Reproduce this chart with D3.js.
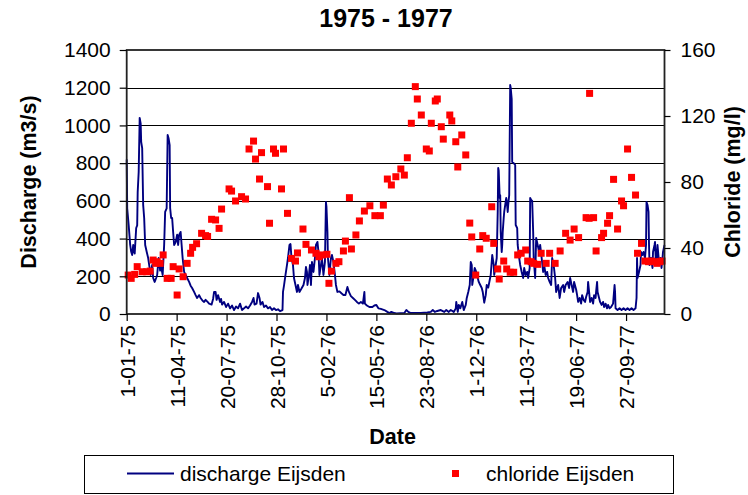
<html>
<head>
  <script type="text/javascript" src="https://cdn.jsdelivr.net/npm/d3@7/dist/d3.min.js"></script>
  <style>
  body { margin: 0; background: #fff; }
  text { font-family: "Liberation Sans", Arial, sans-serif; fill: #000; }
  </style>
</head>
<body>

<script type="text/javascript">
// day offsets counted from 1-01-75
var startDate = new Date(1975, 0, 1);
var lastDay = 1077;

// [day, discharge m3/s]
var dischargeEijsden = [
  [0,820],[1,560],[4,470],[7,366],[9,330],[11,313],[13,366],[16,320],[19,456],[21,470],
  [22,647],[24,753],[26,1040],[28,1010],[29,912],[31,880],[33,578],[35,509],[37,366],[40,330],
  [43,297],[45,260],[48,207],[51,260],[53,191],[56,170],[59,191],[61,207],[64,297],[67,230],
  [69,250],[72,207],[75,366],[77,541],[80,560],[82,949],[84,930],[86,896],[87,562],[89,509],
  [91,509],[93,435],[95,366],[98,380],[101,420],[103,366],[105,419],[108,435],[110,366],[112,297],
  [115,223],[118,207],[121,191],[125,170],[128,150],[131,138],[135,117],[138,100],[141,85],[145,100],
  [148,85],[152,70],[155,64],[158,75],[162,64],[165,55],[170,50],[173,80],[175,117],[178,117],
  [180,75],[183,100],[187,64],[189,80],[191,50],[195,64],[199,37],[203,55],[207,30],[211,45],
  [215,21],[219,40],[223,30],[227,55],[231,21],[235,30],[239,40],[243,30],[247,45],[251,64],
  [254,85],[256,50],[260,55],[263,111],[266,85],[268,50],[272,64],[275,37],[279,45],[283,30],
  [287,37],[291,21],[295,30],[299,21],[303,25],[307,15],[312,21],[313,117],[315,150],[318,207],
  [321,260],[323,297],[326,366],[328,371],[330,297],[333,260],[335,191],[338,154],[341,117],[343,154],
  [346,117],[350,135],[354,154],[357,191],[359,250],[361,223],[362,154],[365,207],[367,260],[369,154],
  [371,276],[374,223],[377,297],[379,366],[382,382],[384,330],[386,207],[389,260],[391,297],[394,207],
  [397,276],[399,594],[400,570],[402,435],[403,297],[406,207],[409,297],[411,313],[414,276],[417,207],
  [419,154],[422,117],[426,120],[430,110],[434,101],[438,101],[442,143],[445,117],[449,95],[453,85],
  [457,75],[461,64],[465,55],[469,64],[473,55],[476,117],[477,55],[481,45],[486,37],[492,37],
  [496,45],[500,48],[504,30],[509,27],[516,21],[522,11],[526,5],[530,11],[536,5],[540,3],
  [556,5],[560,21],[564,11],[569,5],[576,5],[589,5],[602,8],[609,11],[613,21],[617,11],
  [622,16],[629,21],[636,11],[640,21],[645,11],[649,21],[655,11],[659,30],[660,64],[663,11],
  [665,48],[668,30],[672,64],[675,21],[679,48],[681,85],[684,117],[687,154],[689,276],[691,260],
  [692,154],[695,207],[697,244],[700,223],[703,191],[705,170],[708,154],[711,138],[713,117],[716,60],
  [719,100],[721,154],[724,140],[727,180],[729,207],[732,313],[735,260],[736,207],[739,260],[741,297],
  [743,541],[744,774],[745,760],[747,615],[748,630],[749,435],[751,329],[752,366],[753,435],[755,509],
  [756,541],[758,578],[760,615],[761,600],[763,541],[764,578],[766,630],[768,1214],[769,1200],[771,1140],
  [772,806],[775,800],[778,790],[779,472],[782,455],[783,366],[786,297],[788,260],[791,223],[794,191],
  [796,244],[799,207],[802,223],[804,191],[807,244],[808,615],[810,605],[812,600],[814,435],[815,297],
  [816,260],[818,191],[820,403],[823,366],[826,329],[828,366],[831,297],[834,223],[836,260],[839,207],
  [842,223],[844,191],[847,170],[850,154],[852,297],[855,260],[858,191],[860,117],[864,154],[867,85],
  [870,138],[874,154],[876,117],[879,154],[883,170],[886,138],[888,191],[891,154],[894,117],[896,170],
  [900,130],[902,100],[904,64],[907,85],[910,55],[912,100],[915,75],[918,64],[920,90],[923,117],
  [924,170],[926,117],[928,64],[931,85],[934,55],[936,100],[939,85],[940,117],[942,170],[943,117],
  [946,85],[948,64],[951,48],[954,64],[956,37],[959,55],[962,30],[964,48],[967,30],[970,37],
  [974,55],[977,154],[978,117],[979,30],[983,21],[987,30],[991,21],[995,30],[999,21],[1003,30],
  [1007,21],[1011,30],[1015,21],[1019,30],[1021,85],[1022,297],[1023,191],[1026,223],[1029,260],[1030,329],
  [1033,313],[1035,329],[1038,297],[1040,366],[1041,594],[1043,578],[1045,541],[1046,366],[1047,260],[1050,297],
  [1053,244],[1054,329],[1057,366],[1058,382],[1060,260],[1061,276],[1063,366],[1066,276],[1069,297],[1071,244],
  [1073,297],[1074,329],[1077,366]
];

// [day, chloride mg/l]
var chlorideEijsden = [
  [3,23.6],[9,21.6],[16,24],[21,28.7],[31,25.6],[40,25.6],[47,26],[53,32.7],[58,30.7],[61,31.7],
  [67,30.7],[73,35.8],[81,21.6],[89,21.6],[93,28.7],[101,11.5],[105,27.3],[113,22.6],[121,30.7],[128,36.8],
  [132,40.4],[140,42.6],[150,48.9],[158,47.5],[162,47],[170,57.4],[178,57],[185,51.9],[190,63.6],[205,75.8],
  [210,74.5],[218,68.5],[230,71.1],[238,69.7],[245,100],[254,104.8],[258,93.9],[266,81.8],[270,97.8],[282,77.2],
  [286,55],[294,100],[298,97.4],[310,75.8],[314,100],[322,61],[330,33.7],[338,32.1],[342,37],[353,51.5],
  [359,42.2],[370,38.8],[379,36.8],[385,34.7],[392,35.8],[401,36.2],[405,18.6],[410,26],[419,30.7],[425,31.7],
  [434,38.2],[438,44.2],[446,70.5],[450,39.4],[459,47.9],[466,56.4],[476,62.4],[487,65.6],[497,59.6],[508,59.6],
  [514,66],[522,81.8],[530,78.2],[539,83.2],[549,87.9],[556,84.2],[562,94.7],[570,115.6],[578,137.8],[582,130.3],
  [590,120.6],[600,100],[606,98.8],[610,115.6],[618,129.1],[622,130.3],[630,113.5],[634,106],[647,120.6],[651,117],
  [659,104.4],[663,89.1],[671,108.5],[679,96.4],[687,55.1],[691,46.7],[699,23.6],[707,39.4],[713,47.5],[720,45.9],
  [731,65],[735,42.8],[743,27.3],[746,21.2],[755,32.1],[761,27.3],[768,25.3],[775,25.3],[783,35.8],[790,36.8],
  [799,38.8],[803,32.1],[810,31.7],[815,30.7],[823,30.1],[830,36.8],[840,30.7],[847,36.8],[858,30.7],[868,38.2],
  [879,48.9],[888,44.8],[896,51.5],[905,46.3],[920,58.4],[926,58],[927,133.7],[935,58.4],[940,38.2],[951,46.3],
  [955,48.9],[963,55],[967,59.6],[975,81.6],[983,51.5],[991,68.5],[995,65.6],[1003,100],[1011,82.8],[1019,72.1],
  [1023,36.8],[1031,42.8],[1038,32.1],[1045,31.7],[1051,32.1],[1057,31.7],[1062,30.7],[1068,31.7],[1072,32.1]
];

var dateTickDays = [0, 100, 200, 300, 400, 500, 600, 700, 800, 900, 1000];
var dischargeTicks = [0, 200, 400, 600, 800, 1000, 1200, 1400];
var chlorideTicks = [0, 40, 80, 120, 160];

function dayToDate(n) {
  return d3.timeDay.offset(startDate, n);
}

var W = 748, H = 495;
var plotL = 126.7, plotR = 664.5, plotT = 50, plotB = 314;

var svg = d3.select("body").append("svg")
  .attr("width", W)
  .attr("height", H);

var x = d3.scaleTime()
  .domain([startDate, dayToDate(lastDay)])
  .range([plotL, plotR]);
var yL = d3.scaleLinear().domain([0, 1400]).range([plotB, plotT]);
var yR = d3.scaleLinear().domain([0, 160]).range([plotB, plotT]);

// grid lines
svg.append("g")
  .selectAll("line")
  .data(dischargeTicks.filter(function(d) { return d > 0 && d < 1400; }))
  .enter().append("line")
  .attr("x1", plotL).attr("x2", plotR)
  .attr("y1", function(d) { return Math.round(yL(d)) + 0.5; })
  .attr("y2", function(d) { return Math.round(yL(d)) + 0.5; })
  .attr("stroke", "#000")
  .attr("stroke-width", 1);

// discharge line
var line = d3.line()
  .x(function(d) { return x(dayToDate(d[0])); })
  .y(function(d) { return yL(d[1]); });

svg.append("path")
  .datum(dischargeEijsden)
  .attr("d", line)
  .attr("fill", "none")
  .attr("stroke", "#000080")
  .attr("stroke-width", 1.9)
  .attr("stroke-linejoin", "round");

// chloride markers
var ms = 7;
svg.append("g")
  .selectAll("rect")
  .data(chlorideEijsden)
  .enter().append("rect")
  .attr("x", function(d) { return x(dayToDate(d[0])) - ms / 2; })
  .attr("y", function(d) { return yR(d[1]) - ms / 2; })
  .attr("width", ms)
  .attr("height", ms)
  .attr("fill", "#ff0000");

// frame
svg.append("rect")
  .attr("x", plotL).attr("y", plotT)
  .attr("width", plotR - plotL).attr("height", plotB - plotT)
  .attr("fill", "none")
  .attr("stroke", "#222")
  .attr("stroke-width", 1.8);

var fmt = d3.timeFormat("%-d-%m-%y");

// axes
var xAxis = svg.append("g")
  .attr("transform", "translate(0," + plotB + ")")
  .call(d3.axisBottom(x)
    .tickValues(dateTickDays.map(dayToDate))
    .tickFormat(fmt)
    .tickSize(7)
    .tickPadding(6));

xAxis.selectAll("text")
  .attr("transform", "rotate(-90)")
  .attr("text-anchor", "end")
  .attr("x", -11)
  .attr("y", 0)
  .attr("dy", "0.36em");

svg.append("g")
  .attr("transform", "translate(" + plotL + ",0)")
  .call(d3.axisLeft(yL)
    .tickValues(dischargeTicks)
    .tickFormat(d3.format("d"))
    .tickSize(7)
    .tickPadding(9));

svg.append("g")
  .attr("transform", "translate(" + plotR + ",0)")
  .call(d3.axisRight(yR)
    .tickValues(chlorideTicks)
    .tickFormat(d3.format("d"))
    .tickSize(6)
    .tickPadding(10));

svg.selectAll(".domain").remove();
svg.selectAll(".tick line").attr("stroke", "#000").attr("stroke-width", 1.2);
svg.selectAll(".tick text")
  .style("font-family", "'Liberation Sans', Arial, sans-serif")
  .style("font-size", "21px")
  .attr("fill", "#000");

// titles
svg.append("text")
  .attr("x", 386).attr("y", 27)
  .attr("text-anchor", "middle")
  .style("font-size", "25px")
  .style("font-weight", "bold")
  .text("1975 - 1977");

svg.append("text")
  .attr("transform", "translate(36," + (plotT + plotB) / 2 + ") rotate(-90)")
  .attr("text-anchor", "middle")
  .style("font-size", "21.5px")
  .style("font-weight", "bold")
  .text("Discharge (m3/s)");

svg.append("text")
  .attr("transform", "translate(740," + (plotT + plotB) / 2 + ") rotate(-90)")
  .attr("text-anchor", "middle")
  .style("font-size", "21.5px")
  .style("font-weight", "bold")
  .text("Chloride (mg/l)");

svg.append("text")
  .attr("x", (plotL + plotR) / 2 - 3).attr("y", 444)
  .attr("text-anchor", "middle")
  .style("font-size", "21.5px")
  .style("font-weight", "bold")
  .text("Date");

// legend
var legend = svg.append("g");
legend.append("rect")
  .attr("x", 84.5).attr("y", 455.5)
  .attr("width", 589).attr("height", 38)
  .attr("fill", "#fff")
  .attr("stroke", "#000")
  .attr("stroke-width", 1);

legend.append("line")
  .attr("x1", 127).attr("x2", 174)
  .attr("y1", 473.5).attr("y2", 473.5)
  .attr("stroke", "#000080")
  .attr("stroke-width", 1.9);

legend.append("text")
  .attr("x", 180).attr("y", 481)
  .style("font-size", "21px")
  .text("discharge Eijsden");

legend.append("rect")
  .attr("x", 452).attr("y", 470)
  .attr("width", 7).attr("height", 7)
  .attr("fill", "#ff0000");

legend.append("text")
  .attr("x", 486).attr("y", 481)
  .style("font-size", "21px")
  .text("chloride Eijsden");
</script>

</body>
</html>
